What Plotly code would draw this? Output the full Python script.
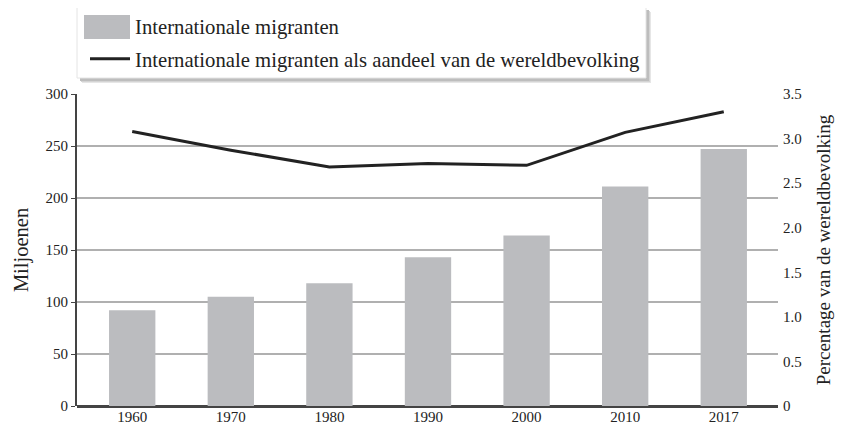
import plotly.graph_objects as go

years = ["1960", "1970", "1980", "1990", "2000", "2010", "2017"]
migrants_millions = [92, 105, 118, 143, 164, 211, 247]
share_percent = [3.08, 2.87, 2.68, 2.72, 2.70, 3.07, 3.30]

left_ticks = [0, 50, 100, 150, 200, 250, 300]
right_ticks = [0, 0.5, 1.0, 1.5, 2.0, 2.5, 3.0, 3.5]
right_labels = ["0", "0.5", "1.0", "1.5", "2.0", "2.5", "3.0", "3.5"]

FONT = "Liberation Serif"
BAR_COLOR = "#bbbcbf"

fig = go.Figure()
fig.add_trace(go.Bar(
    x=years, y=migrants_millions, name="Internationale migranten",
    marker=dict(color=BAR_COLOR, line=dict(width=0)), width=0.47, yaxis="y",
    legendgroup="a",
))
fig.add_trace(go.Scatter(
    x=years, y=share_percent, mode="lines",
    name="Internationale migranten als aandeel van de wereldbevolking",
    line=dict(color="#222222", width=3), yaxis="y2", legendgroup="b",
))

# page body has an 8px default margin
OFF = 8
SW, SH = 844, 430
W, H = SW - OFF, SH - OFF
# screen-pixel plot area: x 77..778, y 94..406
ml, mr, mt, mb = 77 - OFF, SW - 778, 94 - OFF, SH - 406
pw = W - ml - mr
ph = H - mt - mb

def px_x(p):
    return (p - OFF - ml) / pw

def px_y(p):
    return (H - mb - (p - OFF)) / ph

# legend soft shadow and box
BX0, BX1, BY0, BY1 = 77, 646, 7, 78
for d, c in [(5, "#e6e6e6"), (4, "#d4d4d4"), (3, "#bdbdbd")]:
    fig.add_shape(type="rect", xref="paper", yref="paper",
                  x0=px_x(BX0 + d), x1=px_x(BX1 + d), y0=px_y(BY1 + d), y1=px_y(BY0 + d),
                  fillcolor=c, line=dict(width=0), layer="above")
fig.add_shape(type="rect", xref="paper", yref="paper",
              x0=px_x(BX0), x1=px_x(BX1), y0=px_y(BY1), y1=px_y(BY0),
              fillcolor="white", line=dict(color="#e4e4e4", width=1), layer="above")
# enlarged legend swatch for bars
fig.add_shape(type="rect", xref="paper", yref="paper",
              x0=px_x(84), x1=px_x(130), y0=px_y(39), y1=px_y(15),
              fillcolor=BAR_COLOR, line=dict(width=0), layer="above")

fig.update_layout(
    width=W, height=H,
    margin=dict(l=ml, r=mr, t=mt, b=mb, autoexpand=False),
    paper_bgcolor="white", plot_bgcolor="white",
    font=dict(family=FONT, color="#222222", size=15),
    showlegend=True,
    legend=dict(x=px_x(85), y=px_y(6), xanchor="left", yanchor="top",
                bgcolor="rgba(0,0,0,0)", borderwidth=0,
                font=dict(family=FONT, size=20.7, color="#222222"),
                tracegroupgap=3, itemwidth=40),
    xaxis=dict(type="category", range=[-0.56, 6.55], showgrid=False,
               showline=False, ticks="", tickfont=dict(size=15),
               automargin=False),
    yaxis=dict(range=[0, 300], tickvals=left_ticks, showgrid=True,
               gridcolor="#b0b0b0", gridwidth=1.5,
               zeroline=True, zerolinecolor="#444444", zerolinewidth=2.5,
               showline=True, linecolor="#444444", linewidth=2,
               ticks="outside", ticklen=4, tickcolor="#444444",
               title=dict(text="Miljoenen", font=dict(size=20.5), standoff=11),
               tickfont=dict(size=15), automargin=False),
    yaxis2=dict(range=[0, 3.5], overlaying="y", side="right",
                tickvals=right_ticks, ticktext=right_labels,
                showgrid=False, zeroline=False, showline=False,
                ticks="", ticklabelstandoff=4,
                title=dict(text="Percentage van de wereldbevolking",
                           font=dict(size=19), standoff=15),
                tickfont=dict(size=15), automargin=False),
    bargap=0.5,
)

fig.write_html("out.html")
